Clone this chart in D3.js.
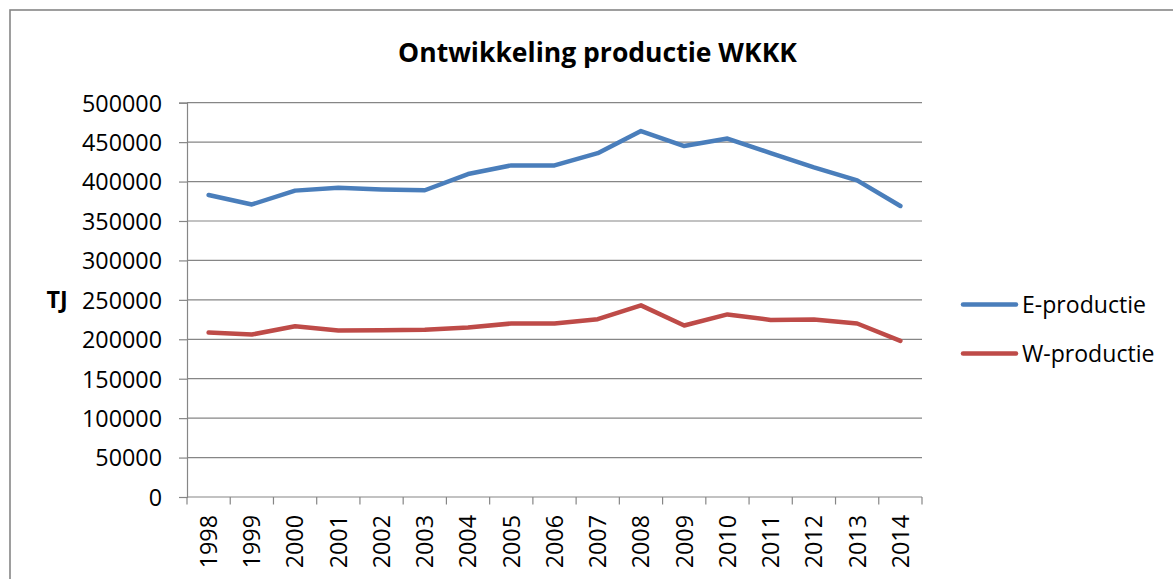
<!DOCTYPE html>
<html>
<head>
<meta charset="utf-8">
<script src="https://cdn.jsdelivr.net/npm/d3@7"></script>
<style>
  html, body { margin: 0; padding: 0; background: #fff; }
  svg { display: block; }
  text { font-family: "Open Sans", "Liberation Sans", sans-serif; fill: #000; }
</style>
</head>
<body>
<svg id="chart" width="1173" height="579"></svg>
<script>
const years = ["1998","1999","2000","2001","2002","2003","2004","2005","2006","2007","2008","2009","2010","2011","2012","2013","2014"];
const eProductie = [383000, 371000, 388500, 392000, 390000, 389000, 409500, 420500, 420500, 436000, 464000, 445000, 454500, 436000, 418000, 401500, 369000];
const wProductie = [208500, 206000, 216500, 211000, 211500, 212000, 215000, 220000, 220000, 225500, 243000, 217500, 231500, 224500, 225000, 220000, 198000];
const yTicks = [0, 50000, 100000, 150000, 200000, 250000, 300000, 350000, 400000, 450000, 500000];
const seriesNames = ["E-productie", "W-productie"];
const title = "Ontwikkeling productie WKKK";
const yTitle = "TJ";

(function () {
const colors = ["#4A7EBB", "#BE4B48"];
const svg = d3.select("#chart");

function fitFont(sel, target, base) {
  sel.style("font-size", base + "px");
  const w = sel.node().getComputedTextLength();
  const fs = (base * target / w).toFixed(2) + "px";
  sel.style("font-size", fs);
  return fs;
}

// outer frame
svg.append("rect").attr("x", 10).attr("y", 10).attr("width", 1200).attr("height", 600)
  .attr("fill", "none").attr("stroke", "#868686").attr("stroke-width", 1.6);

const pLeft = 187, pRight = 922, pTop = 102.7, pBottom = 497;
const x = d3.scaleBand().domain(years).range([pLeft, pRight]);
const y = d3.scaleLinear().domain([0, 500000]).range([pBottom, pTop]);

// gridlines
svg.append("g").selectAll("line").data(yTicks.filter(d => d > 0)).join("line")
  .attr("x1", pLeft).attr("x2", pRight)
  .attr("y1", d => y(d)).attr("y2", d => y(d))
  .attr("stroke", "#868686").attr("stroke-width", 1.2);

// y axis
const yAxis = svg.append("g").attr("transform", `translate(${pLeft},0)`)
  .call(d3.axisLeft(y).tickValues(yTicks).tickSize(8).tickPadding(17).tickFormat(d => String(d)));
yAxis.attr("font-family", null).attr("font-size", null);
yAxis.select(".domain").attr("stroke", "#868686").attr("stroke-width", 1.2);
yAxis.selectAll(".tick line").attr("stroke", "#868686").attr("stroke-width", 1.2);
const yLabels = yAxis.selectAll(".tick text").attr("dy", "0.36em").attr("fill", "#000");
const tickFs = fitFont(yLabels.filter(d => d === 500000), 80, 20);
yLabels.style("font-size", tickFs);

// x axis
const xAxisG = svg.append("g").attr("transform", `translate(0,${pBottom})`);
xAxisG.append("line").attr("x1", pLeft).attr("x2", pRight).attr("y1", 0).attr("y2", 0)
  .attr("stroke", "#868686").attr("stroke-width", 1.2);
const bounds = years.map(d => x(d)).concat([x(years[years.length - 1]) + x.bandwidth()]);
xAxisG.selectAll("line.tk").data(bounds).join("line").attr("class", "tk")
  .attr("x1", d => d).attr("x2", d => d).attr("y1", 0).attr("y2", 7.5)
  .attr("stroke", "#868686").attr("stroke-width", 1.2);
xAxisG.selectAll("text").data(years).join("text")
  .attr("transform", d => `translate(${x(d) + x.bandwidth() / 2},18) rotate(-90)`)
  .attr("text-anchor", "end").attr("dy", "0.36em")
  .style("font-size", tickFs)
  .text(d => d);

// lines
const line = d3.line().x((d, i) => x(years[i]) + x.bandwidth() / 2).y(d => y(d));
[eProductie, wProductie].forEach((s, i) => {
  svg.append("path").datum(s).attr("d", line)
    .attr("fill", "none").attr("stroke", colors[i]).attr("stroke-width", 4.5)
    .attr("stroke-linejoin", "round").attr("stroke-linecap", "round");
});

// title
const t = svg.append("text").attr("x", 597.5).attr("y", 61.7).attr("text-anchor", "middle")
  .attr("font-weight", "bold").text(title);
fitFont(t, 399, 24);

// y axis title
svg.append("text").attr("x", 57).attr("y", (pTop + pBottom) / 2).attr("dy", "0.36em")
  .attr("text-anchor", "middle").attr("font-weight", "bold")
  .style("font-size", tickFs).text(yTitle);

// legend
const legendY = [304.5, 353.5];
let legFs = null;
seriesNames.forEach((name, i) => {
  svg.append("line").attr("x1", 963).attr("x2", 1016).attr("y1", legendY[i]).attr("y2", legendY[i])
    .attr("stroke", colors[i]).attr("stroke-width", 4.5).attr("stroke-linecap", "round");
  const lt = svg.append("text").attr("x", 1022).attr("y", legendY[i]).attr("dy", "0.36em").text(name);
  if (legFs === null) legFs = fitFont(lt, 124, 20);
  else lt.style("font-size", legFs);
});
})();
</script>
</body>
</html>
